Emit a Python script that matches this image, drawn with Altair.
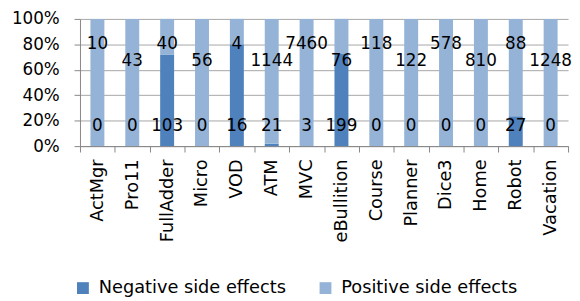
import altair as alt
import pandas as pd

categories = ["ActMgr", "Pro11", "FullAdder", "Micro", "VOD", "ATM", "MVC",
              "eBullition", "Course", "Planner", "Dice3", "Home", "Robot", "Vacation"]
negative = [0, 0, 103, 0, 16, 21, 3, 199, 0, 0, 0, 0, 27, 0]
positive = [10, 43, 40, 56, 4, 1144, 7460, 76, 118, 122, 578, 810, 88, 1248]
series_names = ["Negative side effects", "Positive side effects"]
colors = ["#4F81BD", "#95B3D7"]

rows = []
for i, c in enumerate(categories):
    rows.append(dict(cat=c, series=series_names[0], value=negative[i], ord=0, ly=0.16))
    rows.append(dict(cat=c, series=series_names[1], value=positive[i], ord=1,
                     ly=0.805 if i % 2 == 0 else 0.665))
df = pd.DataFrame(rows)

font = "DejaVu Sans"

xaxis = alt.Axis(labelAngle=-90, labelFontSize=18, labelFont=font, tickBand="extent",
                 tickSize=6, labelPadding=7, domainColor="#868686", tickColor="#868686",
                 labelColor="black", grid=False)
xscale = alt.Scale(paddingInner=0, paddingOuter=0)

yaxis = alt.Axis(format="%", values=[0, 0.2, 0.4, 0.6, 0.8, 1.0], labelFontSize=17,
                 labelFont=font, tickSize=6, labelPadding=15, gridColor="#a6a6a6",
                 domainColor="#868686", tickColor="#868686", labelColor="black")

bars = alt.Chart(df).mark_bar(width=alt.RelativeBandSize(0.4)).encode(
    x=alt.X("cat:N", sort=categories, title=None, scale=xscale, axis=xaxis),
    y=alt.Y("value:Q", stack="normalize", title=None, scale=alt.Scale(domain=[0, 1]), axis=yaxis),
    color=alt.Color("series:N", scale=alt.Scale(domain=series_names, range=colors),
                    legend=alt.Legend(orient="none", legendX=-6, legendY=264, direction="horizontal",
                                      columns=2, title=None, symbolType="square", symbolSize=144,
                                      symbolStrokeWidth=0, labelFontSize=18, labelFont=font,
                                      labelOffset=7, columnPadding=31, labelColor="black",
                                      labelLimit=400)),
    order=alt.Order("ord:Q"),
)

labels = alt.Chart(df).mark_text(fontSize=17, font=font, color="black").encode(
    x=alt.X("cat:N", sort=categories, title=None, scale=xscale, axis=xaxis),
    y=alt.Y("ly:Q", title=None, scale=alt.Scale(domain=[0, 1]), axis=yaxis),
    text="value:Q",
)

chart = alt.layer(bars, labels).properties(
    width=495, height=129,
    padding={"left": 73, "top": 9, "right": 4, "bottom": 154},
    autosize=alt.AutoSizeParams(type="none"),
).configure_view(stroke=None)

chart.save("out.html", embed_options={"renderer": "svg", "actions": False})
